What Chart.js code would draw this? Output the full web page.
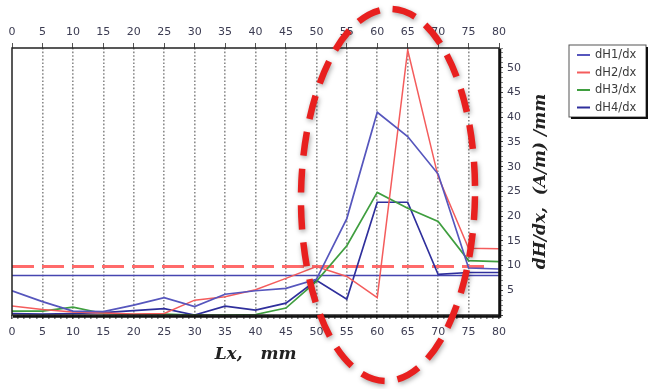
<!DOCTYPE html>
<html><head><meta charset="utf-8">
<script src="https://cdn.jsdelivr.net/npm/chart.js@4.4.1/dist/chart.umd.min.js"></script>
<style>html,body{margin:0;padding:0;background:#fff}canvas{display:block}</style>
</head><body>
<canvas id="c" width="648" height="389"></canvas>
<script>
// ---- data ----
const positions = [0,5,10,15,20,25,30,35,40,45,50,55,60,65,70,75,80];
const dH1 = [4.9,2.7,0.8,0.7,2.0,3.5,1.7,4.2,4.9,5.4,7.2,19.5,41.0,36.1,28.5,9.5,9.3];
const dH2 = [1.8,1.1,0.6,0.4,0.2,0.3,3.0,3.7,5.1,7.4,9.8,7.8,3.5,53.6,28.0,13.5,13.4];
const dH3 = [0.8,0.8,1.6,0.3,0.1,0.2,0.0,0.0,0.1,1.4,6.8,14.0,24.8,21.6,18.9,11.0,10.8];
const dH4 = [0.3,0.2,0.3,0.5,0.9,1.3,0.0,1.8,1.0,2.4,7.0,3.2,22.8,22.8,8.2,8.6,8.6];
const seriesLabels = ['dH1/dx','dH2/dx','dH3/dx','dH4/dx'];
const refRed = {level: 9.8, from: 0, to: 78.5};
const refBlue = {level: 8.0, from: 0, to: 80};
const xTickLabels = [0,5,10,15,20,25,30,35,40,45,50,55,60,65,70,75,80];
const yTickLabels = [5,10,15,20,25,30,35,40,45,50];
const xTitle = 'Lx,   mm';
const yTitle = 'dH/dx,  (A/m) /mm';

// ---- styles ----
const colors = ['#5656bd','#f45c5c','#3f9e3f','#2f2f9c'];
const pts = arr => positions.map((x,i)=>({x, y: arr[i]}));
const series = [dH1,dH2,dH3,dH4];

const datasets = series.map((arr,i)=>({
  label: seriesLabels[i], data: pts(arr), borderColor: colors[i],
  borderWidth: i===1 ? 1.5 : 1.7, pointRadius: 0, tension: 0, fill: false
}));
datasets.push({label:'_refRed', data:[{x:refRed.from,y:refRed.level},{x:refRed.to,y:refRed.level}],
  borderColor:'#ff6b6b', borderWidth:3, borderDash:[22,8], pointRadius:0});
datasets.push({label:'_refBlue', data:[{x:refBlue.from,y:refBlue.level},{x:refBlue.to,y:refBlue.level}],
  borderColor:'#4646b0', borderWidth:1.6, pointRadius:0});

const tickFont = {family:'DejaVu Sans', size:11};
const tickColor = '#3c3c52';

const framePlugin = {
  id:'frame',
  afterDatasetsDraw(chart){
    const {ctx, chartArea:a} = chart;
    ctx.save();
    ctx.strokeStyle = '#222'; ctx.lineWidth = 1.5;
    ctx.strokeRect(a.left, a.top, a.right-a.left, a.bottom-a.top);
    ctx.strokeStyle = '#111'; ctx.lineWidth = 2.5;
    ctx.beginPath();
    ctx.moveTo(a.right+1, a.top+1); ctx.lineTo(a.right+1, a.bottom+1.5);
    ctx.lineTo(a.left+1, a.bottom+1.5);
    ctx.stroke();
    ctx.restore();
  },
  afterDraw(chart){
    const {ctx, chartArea:a} = chart;
    ctx.save();
    // y title, reading bottom to top
    ctx.translate(541, (a.top+a.bottom)/2);
    ctx.rotate(-Math.PI/2);
    ctx.font = 'italic bold 17px "DejaVu Serif"';
    ctx.fillStyle = '#222';
    ctx.textAlign = 'center'; ctx.textBaseline = 'middle';
    ctx.fillText(yTitle, 0, 0);
    ctx.restore();

    // legend
    ctx.save();
    const lx = 569, ly = 45, lw = 77, lh = 72;
    ctx.fillStyle = '#fff';
    ctx.fillRect(lx, ly, lw, lh);
    ctx.strokeStyle = '#555'; ctx.lineWidth = 1;
    ctx.strokeRect(lx, ly, lw, lh);
    ctx.strokeStyle = '#111'; ctx.lineWidth = 2;
    ctx.beginPath();
    ctx.moveTo(lx+lw+1, ly+2); ctx.lineTo(lx+lw+1, ly+lh+1); ctx.lineTo(lx+2, ly+lh+1);
    ctx.stroke();
    ctx.font = '11.5px "DejaVu Sans"';
    ctx.textBaseline = 'middle';
    chart.data.datasets.slice(0,4).forEach((ds,i)=>{
      const y = ly + 10 + i*17.5;
      ctx.strokeStyle = ds.borderColor; ctx.lineWidth = 2;
      ctx.beginPath(); ctx.moveTo(lx+8, y); ctx.lineTo(lx+21, y); ctx.stroke();
      ctx.fillStyle = '#3a3a3a';
      ctx.fillText(ds.label, lx+26, y+0.5);
    });
    ctx.restore();

    // red dashed ellipse annotation
    ctx.save();
    ctx.strokeStyle = '#e8201f';
    ctx.lineWidth = 6.5;
    ctx.setLineDash([24,13]);
    ctx.shadowColor = 'rgba(0,0,0,0.35)';
    ctx.shadowBlur = 5; ctx.shadowOffsetX = 1; ctx.shadowOffsetY = 2;
    ctx.beginPath();
    ctx.ellipse(388, 195, 87, 186, 0.015, 0, Math.PI*2);
    ctx.stroke();
    ctx.restore();
  }
};

new Chart(document.getElementById('c'), {
  type:'line',
  data:{datasets},
  options:{
    responsive:false, animation:false, devicePixelRatio:1,
    layout:{padding:{left:12, right:0, top:0, bottom:20}},
    plugins:{legend:{display:false}, tooltip:{enabled:false}},
    scales:{
      x:{type:'linear', position:'bottom', min:0, max:80,
        afterFit(s){ s.height = 54; },
        ticks:{stepSize:1, autoSkip:false, maxRotation:0, minRotation:0, padding:7,
          font:tickFont, color:tickColor,
          callback:v => xTickLabels.includes(v) ? String(v) : ''},
        grid:{drawOnChartArea:true, tickLength:4, lineWidth:1.6,
          color: c => (c.tick && c.tick.value%5===0 && c.tick.value>0 && c.tick.value<80) ? '#8a8a8a' : 'rgba(0,0,0,0)',
          tickColor: c => (c.tick && c.tick.value%5===0) ? '#555' : '#888',
          tickBorderDash:[]},
        border:{display:false, dash:[1.6,2]},
        title:{display:true, text:xTitle, color:'#222',
          font:{family:'DejaVu Serif', size:17, style:'italic', weight:'bold'},
          padding:{top:0,bottom:4}}
      },
      x2:{type:'linear', position:'top', min:0, max:80,
        afterFit(s){ s.height = 48; },
        ticks:{stepSize:5, autoSkip:false, maxRotation:0, padding:4, font:tickFont, color:tickColor,
          callback:v => xTickLabels.includes(v) ? String(v) : ''},
        grid:{drawOnChartArea:false, tickLength:5, tickColor:'#555'},
        border:{display:false}
      },
      y:{type:'linear', position:'right', min:0, max:54,
        afterFit(s){ s.width = 149; },
        ticks:{stepSize:1, autoSkip:false, padding:4, font:tickFont, color:tickColor,
          callback:v => yTickLabels.includes(v) ? String(v) : ''},
        grid:{drawOnChartArea:false, tickLength:4,
          tickColor: c => (c.tick && c.tick.value%5===0) ? '#444' : '#888'},
        border:{display:false}
      }
    }
  },
  plugins:[framePlugin]
});
</script>
</body></html>
